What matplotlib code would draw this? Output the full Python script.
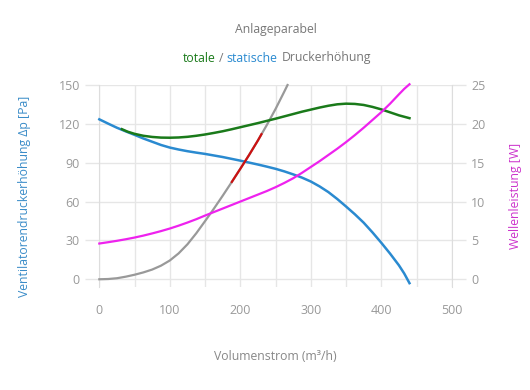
import matplotlib
matplotlib.use("Agg")
import matplotlib.pyplot as plt

plt.rcParams['font.family'] = ['Open Sans', 'DejaVu Sans']

# static pressure curve: volume flow (m3/h) -> pressure (Pa)
static_v = [0, 12.5, 25, 37.5, 50, 62.5, 75, 87.5, 100, 112.5, 125, 137.5, 150, 162.5, 175, 187.5,
            200, 212.5, 225, 237.5, 250, 262.5, 275, 287.5, 300, 312.5, 325, 337.5, 350, 362.5,
            375, 387.5, 400, 412.5, 425, 432.5, 440]
static_p = [123.5, 120.2, 117, 114.2, 111.5, 108.7, 106.2, 103.7, 101.7, 100.2, 98.9, 97.8, 96.8, 95.6,
            94.4, 93, 91.6, 90.1, 88.6, 87, 85.3, 83.3, 81, 78.5, 75.5, 71.7, 67.3, 62, 56.2, 50.2,
            43.7, 36.2, 28.2, 19.8, 10.8, 4.5, -3]

# total pressure curve
total_v = [32, 40, 50, 62.5, 75, 87.5, 100, 112.5, 125, 137.5, 150, 162.5, 175, 187.5, 200, 212.5,
           225, 237.5, 250, 262.5, 275, 287.5, 300, 312.5, 325, 337.5, 350, 362.5, 375, 387.5,
           400, 412.5, 425, 432.5, 440]
total_p = [115.9, 114, 112.3, 110.8, 109.9, 109.4, 109.3, 109.5, 110, 110.8, 111.8, 113, 114.3, 115.8,
           117.4, 119, 120.6, 122.3, 124, 125.8, 127.6, 129.4, 131, 132.6, 134, 135.1, 135.6, 135.4,
           134.6, 133.1, 131.2, 128.9, 126.6, 125.5, 124.4]

# system curve (Anlageparabel)
system_v = [0, 12.5, 25, 37.5, 50, 62.5, 75, 87.5, 100, 112.5, 125, 137.5, 150, 162.5, 175, 187.5,
            200, 212.5, 225, 237.5, 250, 262.5, 267]
system_p = [0, 0.2, 0.8, 2.0, 3.5, 5.3, 7.5, 10.5, 14.5, 20, 27, 35.5, 44.9, 54.5, 64.5, 74.8,
            85.3, 96, 107.2, 119, 131.5, 145, 150]

# highlighted part of the system curve
red_v = [188, 200, 212.5, 225, 230]
red_p = [75.2, 85.3, 96, 107.2, 112]

# shaft power (W)
power_v = [0, 12.5, 25, 37.5, 50, 62.5, 75, 87.5, 100, 112.5, 125, 137.5, 150, 162.5, 175, 187.5,
           200, 212.5, 225, 237.5, 250, 262.5, 275, 287.5, 300, 312.5, 325, 337.5, 350, 362.5,
           375, 387.5, 400, 412.5, 425, 432.5, 440]
power_w = [4.6, 4.77, 4.95, 5.15, 5.37, 5.62, 5.9, 6.2, 6.53, 6.9, 7.3, 7.73, 8.2, 8.65, 9.1, 9.55,
           10.0, 10.45, 10.9, 11.35, 11.85, 12.4, 13.0, 13.7, 14.45, 15.2, 16.0, 16.8, 17.65, 18.55,
           19.5, 20.5, 21.5, 22.6, 23.8, 24.5, 25.1]

BLUE = '#2a8ad0'
GREEN = '#1a7a1a'
MAGENTA = '#ee22ee'
GRAY = '#999999'
RED = '#cc1111'
GRID = '#e6e6e6'
TXT = '#999999'
FS = 8.8

fig = plt.figure(figsize=(5.3, 3.9), dpi=100)
ax = fig.add_axes([0.1874, 0.264, 0.665, 0.518])
ax2 = ax.twinx()

ax.set_xlim(0, 500)
ax.set_ylim(-6, 150)
ax2.set_ylim(-1, 25)

ax.set_xticks(range(0, 501, 100))
ax.set_xticks(range(50, 501, 100), minor=True)
ax.set_yticks(range(0, 151, 30))
ax2.set_yticks(range(0, 26, 5))

ax.grid(True, which='both', axis='x', color=GRID, lw=1)
ax.grid(True, axis='y', color=GRID, lw=1)
ax.set_axisbelow(True)

for a in (ax, ax2):
    for s in a.spines.values():
        s.set_visible(False)
ax.spines['left'].set_visible(True)
ax.spines['left'].set_color('#dddddd')
ax2.spines['right'].set_visible(True)
ax2.spines['right'].set_color('#dddddd')

ax.tick_params(axis='x', which='both', length=0, pad=12, labelsize=9, labelcolor=TXT)
ax.tick_params(axis='y', length=10, width=1, color=GRID, pad=4, labelsize=9, labelcolor=TXT)
ax2.tick_params(axis='y', length=10, width=1, color=GRID, pad=4, labelsize=9, labelcolor=TXT)

ax.plot(system_v, system_p, color=GRAY, lw=1.6, clip_on=False, zorder=3)
ax.plot(red_v, red_p, color=RED, lw=1.6, zorder=4)
ax.plot(static_v, static_p, color=BLUE, lw=1.8, clip_on=False, zorder=3)
ax.plot(total_v, total_p, color=GREEN, lw=1.8, zorder=3)
ax2.plot(power_v, power_w, color=MAGENTA, lw=1.6, clip_on=False, zorder=3)

ax.set_xlabel('Volumenstrom (m³/h)', color='#888888', fontsize=FS, labelpad=24)
ax.set_ylabel('Ventilatorendruckerhöhung Δp [Pa]', color='#3a8cc8', fontsize=FS)
ax2.set_ylabel('Wellenleistung [W]', color='#cc33cc', fontsize=FS)
ax.yaxis.set_label_coords(-0.195, 0.45)
ax2.yaxis.set_label_coords(1.162, 0.45)

fig.text(0.52, 1 - 30 / 390, 'Anlageparabel', ha='center', va='center',
         color='#777777', fontsize=FS)

# multicoloured subtitle, centred as one line
parts = [('totale', GREEN), ('/', '#777777'), ('statische', BLUE), ('Druckerhöhung', '#777777')]
gaps = [3.0, 3.0, 4.5]
texts = [fig.text(0, 1 - 58 / 390, s, color=c, fontsize=FS, va='center') for s, c in parts]
fig.canvas.draw()
r = fig.canvas.get_renderer()
W = fig.bbox.width
widths = [t.get_window_extent(r).width / W for t in texts]
total = sum(widths) + sum(gaps) / W
x0 = 0.523 - total / 2
for i, (t, w) in enumerate(zip(texts, widths)):
    t.set_x(x0)
    if i < len(gaps):
        x0 += w + gaps[i] / W

fig.savefig('out.png', dpi=100)
